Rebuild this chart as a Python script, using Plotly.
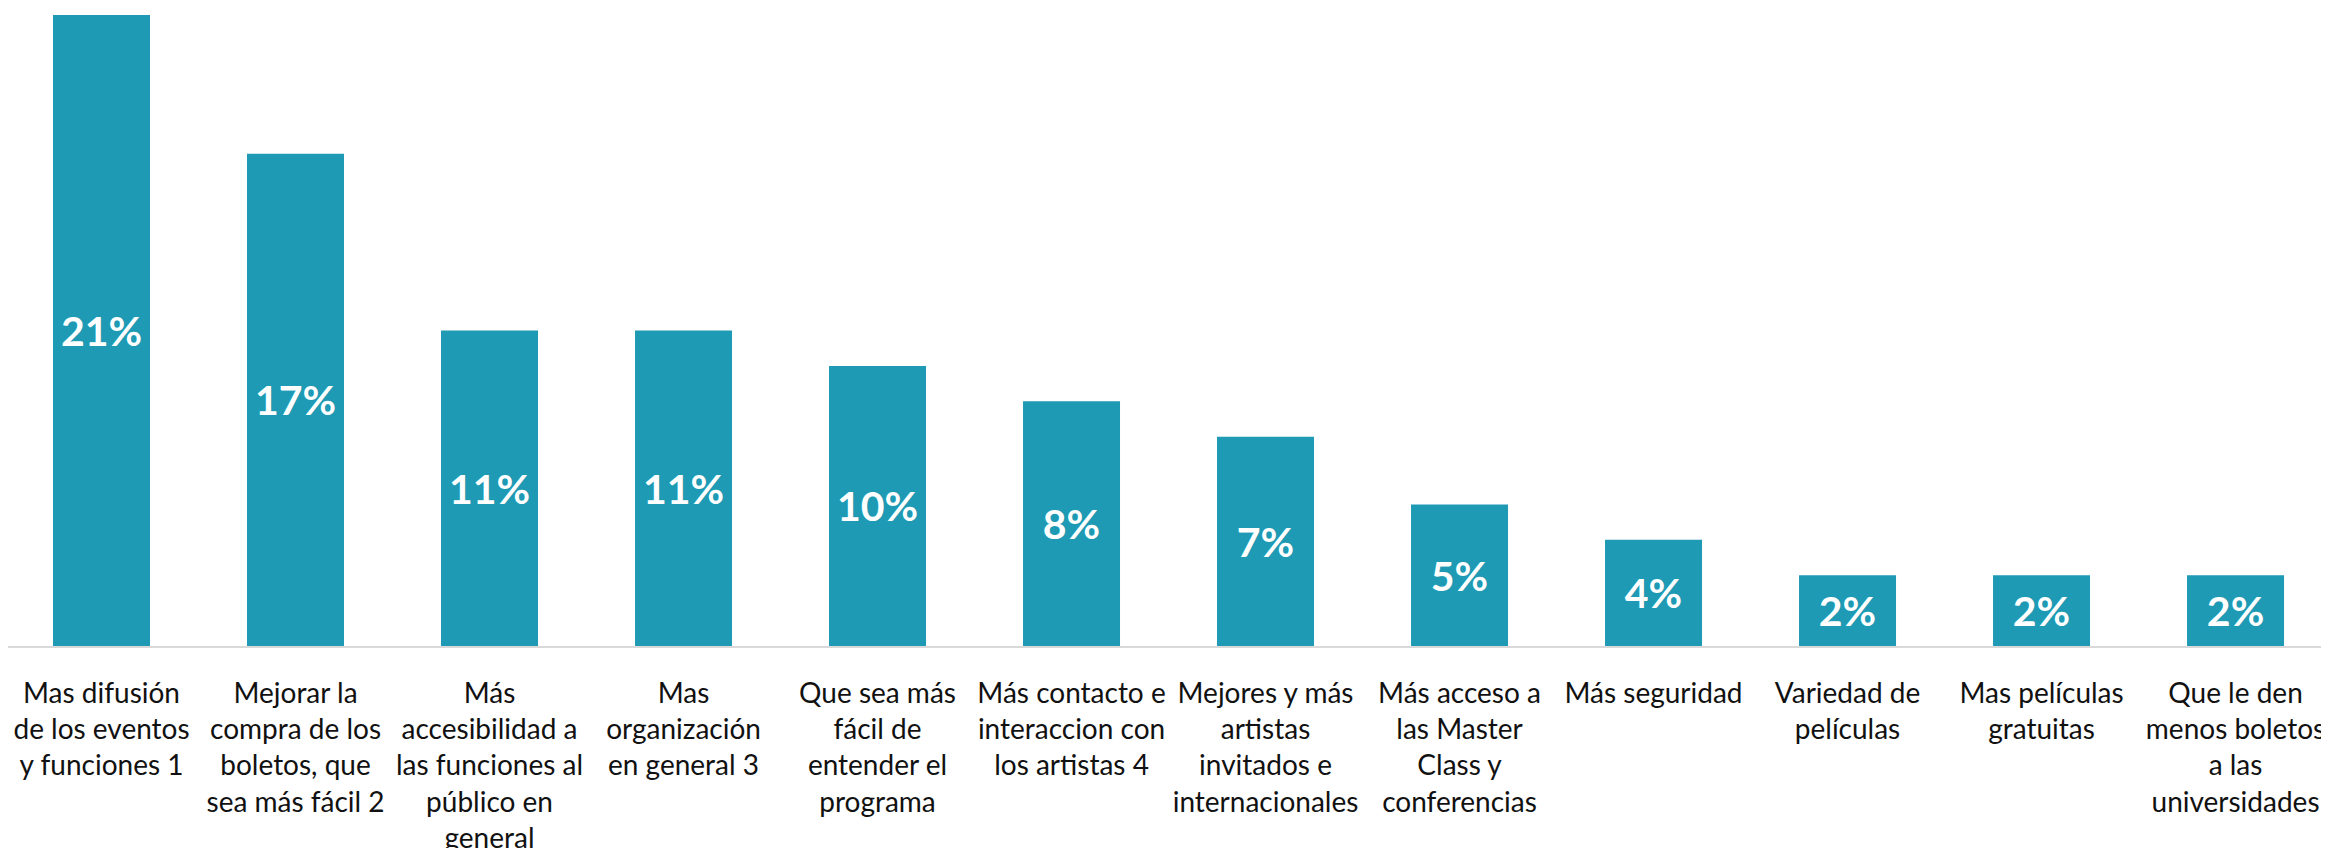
import plotly.graph_objects as go

categories = [
    "Mas difusión<br>de los eventos<br>y funciones 1",
    "Mejorar la<br>compra de los<br>boletos, que<br>sea más fácil 2",
    "Más<br>accesibilidad a<br>las funciones al<br>público en<br>general",
    "Mas<br>organización<br>en general 3",
    "Que sea más<br>fácil de<br>entender el<br>programa",
    "Más contacto e<br>interaccion con<br>los artistas 4",
    "Mejores y más<br>artistas<br>invitados e<br>internacionales",
    "Más acceso a<br>las Master<br>Class y<br>conferencias",
    "Más seguridad",
    "Variedad de<br>películas",
    "Mas películas<br>gratuitas",
    "Que le den<br>menos boletos<br>a las<br>universidades",
]
shares = [0.214, 0.167, 0.107, 0.107, 0.095, 0.083, 0.071, 0.048, 0.036, 0.024, 0.024, 0.024]

fig = go.Figure(go.Bar(
    x=categories,
    y=shares,
    marker=dict(color="#1e9ab4", line=dict(width=0)),
    texttemplate="%{y:.0%}",
    textposition="inside",
    insidetextanchor="middle",
    textangle=0,
    textfont=dict(family="Lato", size=41, color="white", weight="bold"),
))

fig.update_layout(
    width=2329,
    height=848,
    margin=dict(l=0, r=0, t=0, b=210),
    plot_bgcolor="white",
    paper_bgcolor="white",
    bargap=0.5,
    showlegend=False,
)
# page body adds an 8px offset; the plot area runs past both edges like the original
fig.update_xaxes(
    range=[-0.482, 11.523], automargin=False,
    showline=True, linecolor="#d9d9d9", linewidth=2,
    tickfont=dict(family="Lato", size=28, color="#111111"),
    ticks="", ticklabelstandoff=21, tickangle=0,
)
fig.update_yaxes(visible=False, range=[0, 0.2164], automargin=False)

fig.write_html("out.html")
